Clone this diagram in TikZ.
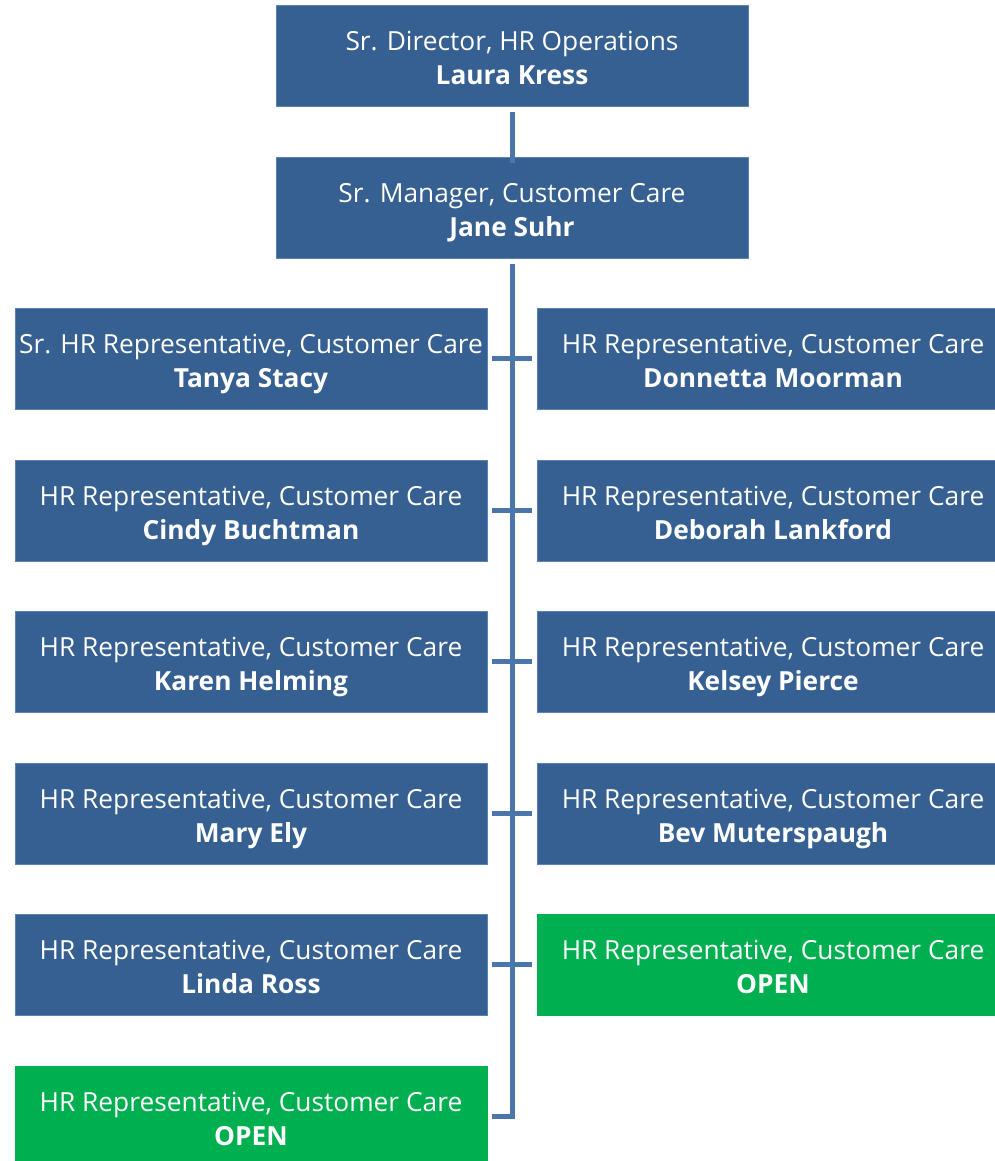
\documentclass[tikz,border=0pt]{standalone}
\usepackage{fontspec}
\setmainfont{Open Sans}
\usetikzlibrary{calc}
\definecolor{boxblue}{RGB}{54,96,146}
\definecolor{boxedge}{RGB}{90,130,180}
\definecolor{boxgreen}{RGB}{0,176,80}
\definecolor{linkblue}{RGB}{74,118,172}
\newcommand\boxtext[2]{\raisebox{-5pt}[\height][\depth]{\begin{tabular}{@{}c@{}}#1\\\textbf{#2}\end{tabular}}}
\tikzset{
  orgbox/.style={fill=boxblue, draw=boxedge, line width=0.8pt, minimum width=472pt, minimum height=101pt,
    inner sep=0pt, text=white, font=\fontsize{26.3}{34}\selectfont},
  openbox/.style={orgbox, fill=boxgreen, draw=boxgreen},
  link/.style={draw=linkblue, line width=5pt}
}
\begin{document}
\begin{tikzpicture}[x=1pt,y=1pt]
\useasboundingbox (0,0) rectangle (995,-1161);
\clip (0,0) rectangle (995,-1161);
\node[orgbox] (dir) at (512,-55.5) {\boxtext{Sr. Director, HR Operations}{Laura Kress}};
\node[orgbox] (mgr) at (512,-207.5) {\boxtext{Sr. Manager, Customer Care}{Jane Suhr}};
\node[orgbox] (l1) at (251,-358.5) {\boxtext{Sr. HR Representative, Customer Care}{Tanya Stacy}};
\node[orgbox] (r1) at (773,-358.5) {\boxtext{HR Representative, Customer Care}{Donnetta Moorman}};
\node[orgbox] (l2) at (251,-510.5) {\boxtext{HR Representative, Customer Care}{Cindy Buchtman}};
\node[orgbox] (r2) at (773,-510.5) {\boxtext{HR Representative, Customer Care}{Deborah Lankford}};
\node[orgbox] (l3) at (251,-661.5) {\boxtext{HR Representative, Customer Care}{Karen Helming}};
\node[orgbox] (r3) at (773,-661.5) {\boxtext{HR Representative, Customer Care}{Kelsey Pierce}};
\node[orgbox] (l4) at (251,-813.5) {\boxtext{HR Representative, Customer Care}{Mary Ely}};
\node[orgbox] (r4) at (773,-813.5) {\boxtext{HR Representative, Customer Care}{Bev Muterspaugh}};
\node[orgbox] (l5) at (251,-964.5) {\boxtext{HR Representative, Customer Care}{Linda Ross}};
\node[openbox] (r5) at (773,-964.5) {\boxtext{HR Representative, Customer Care}{OPEN}};
\node[openbox] (l6) at (251,-1116.5) {\boxtext{HR Representative, Customer Care}{OPEN}};
% connectors
\draw[link] ($(dir.south)+(0,-6)$) -- ($(mgr.north)+(0,-6)$);
\draw[link] ($(mgr.south)+(0,-6)$) -- (mgr.south |- l6.east) -- ($(l6.east)+(5,0)$);
\foreach \l/\r in {l1/r1,l2/r2,l3/r3,l4/r4,l5/r5}{
  \draw[link] ($(\l.east)+(5,0)$) -- ($(\r.west)+(-5,0)$);
}
\end{tikzpicture}
\end{document}
